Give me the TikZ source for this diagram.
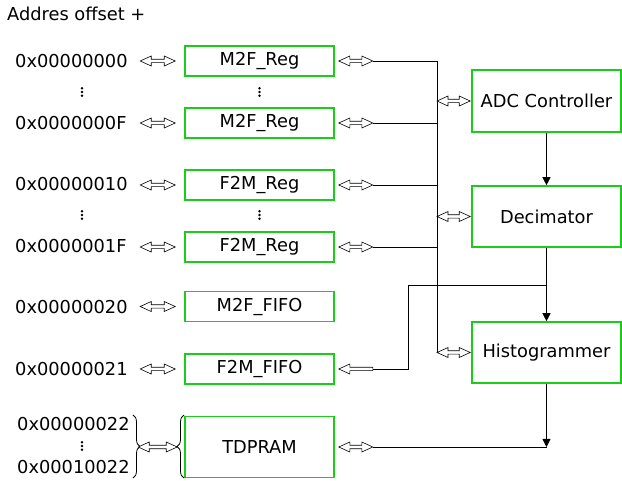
\documentclass[tikz,border=0pt]{standalone}
\usepackage{fontspec}
\setmainfont{DejaVu Sans}
\usetikzlibrary{calc,arrows.meta,decorations.pathreplacing}
\definecolor{boxgreen}{RGB}{25,205,25}
% hollow double-headed arrow between two points on one horizontal line (left point first)
\newcommand\dblarr[2]{%
  \path[harr] let \p1=(#1), \p2=(#2) in
    (\x1,\y1) -- (\x1+11pt,\y1+5pt) -- (\x1+11pt,\y1+1.7pt) -- (\x2-11pt,\y1+1.7pt)
    -- (\x2-11pt,\y1+5pt) -- (\x2,\y1) -- (\x2-11pt,\y1-5pt) -- (\x2-11pt,\y1-1.7pt)
    -- (\x1+11pt,\y1-1.7pt) -- (\x1+11pt,\y1-5pt) -- cycle;}
% hollow single arrow pointing to the left point (left point first)
\newcommand\leftarr[2]{%
  \path[harr] let \p1=(#1), \p2=(#2) in
    (\x1,\y1) -- (\x1+11pt,\y1+5pt) -- (\x1+11pt,\y1+1.7pt) -- (\x2,\y1+1.7pt)
    -- (\x2,\y1-1.7pt) -- (\x1+11pt,\y1-1.7pt) -- (\x1+11pt,\y1-5pt) -- cycle;}
\begin{document}
\begin{tikzpicture}[x=1pt,y=-1pt,
  font=\fontsize{17.8}{20}\selectfont,
  box/.style={draw=boxgreen, line width=1.6pt, minimum width=149pt, inner sep=0pt},
  reg/.style={box, minimum height=30pt},
  big/.style={box, minimum height=61pt},
  addr/.style={anchor=west, inner sep=0pt},
  wire/.style={draw=black, line width=0.9pt},
  harr/.style={draw=black, fill=white, line width=0.6pt, line join=miter},
  flow/.style={wire, -{Triangle[length=8pt,width=8pt]}},
  brc/.style={draw=black, line width=0.8pt, decorate, decoration={brace, amplitude=7pt}},
  vdots/.pic={\fill (0,-3.8) circle (1.4pt) (0,0) circle (1.4pt) (0,3.8) circle (1.4pt);}]
\useasboundingbox (0,0) rectangle (622,481);

% title
\node[addr] (title) at (7,14) {Addres offset +};

% address labels
\node[addr] (a0)  at (15,61)  {0x00000000};
\node[addr] (a1)  at (15,123) {0x0000000F};
\node[addr] (a2)  at (15,184) {0x00000010};
\node[addr] (a3)  at (15,246) {0x0000001F};
\node[addr] (a4)  at (15,307) {0x00000020};
\node[addr] (a5)  at (15,369) {0x00000021};
\node[addr] (a6)  at (17,424) {0x00000022};
\node[addr] (a7)  at (17,467) {0x00010022};
\pic at (82,92)  {vdots};
\pic at (82,215) {vdots};
\pic at (82,446) {vdots};

% register / fifo boxes
\node[reg] (m1) at (259.5,61)  {M2F\_Reg};
\node[reg] (m2) at (259.5,123) {M2F\_Reg};
\node[reg] (f1) at (259.5,185) {F2M\_Reg};
\node[reg] (f2) at (259.5,247) {F2M\_Reg};
\node[reg] (mf) at (259.5,306.5) {M2F\_FIFO};
\node[reg] (ff) at (259.5,369) {F2M\_FIFO};
\node[big] (td) at (259.5,447) {TDPRAM};
\pic at (259.5,92)  {vdots};
\pic at (259.5,215) {vdots};

% right blocks
\node[big, minimum height=62pt] (adc)  at (546.5,101)   {ADC Controller};
\node[big] (dec)  at (546.5,216.5) {Decimator};
\node[big] (hist) at (546.5,352.5) {Histogrammer};

% left arrows
\foreach \b in {m1,m2,f1,f2,mf,ff}
  \dblarr{$(\b.west)+(-44,0)$}{$(\b.west)+(-9,0)$};

% braces for TDPRAM
\draw[brc] (133,415) -- (133,478);
\draw[brc] (184,478) -- (184,415);
\dblarr{$(td.west)+(-46,0)$}{$(td.west)+(-7,0)$};

% bus
\coordinate (bus) at (437,0);
\foreach \b in {m1,m2,f1,f2}
  \dblarr{$(\b.east)+(4,0)$}{$(\b.east)+(38,0)$};
\draw[wire] ($(m1.east)+(38,0)$) -- (m1.east -| bus) -- (hist.west -| bus);
\foreach \b in {m2,f1,f2}
  \draw[wire] ($(\b.east)+(38,0)$) -- (\b.east -| bus);
\foreach \b in {adc,dec,hist}
  \dblarr{$(\b.west -| bus)$}{$(\b.west)+(-1,0)$};

% data flow
\draw[flow] (adc.south) -- (dec.north);
\draw[flow] (dec.south) -- (hist.north);
\coordinate (j1) at (547,285);
\coordinate (bend1) at (408,285);
\draw[wire] (j1) -- (bend1) -- (bend1 |- ff.east) -- ($(ff.east)+(38,0)$);
\leftarr{$(ff.east)+(4,0)$}{$(ff.east)+(38,0)$};

\coordinate (j2) at (hist.south |- td.east);
\draw[flow] (hist.south) -- (j2);
\draw[wire] ($(td.east)+(38,0)$) -- (j2);
\dblarr{$(td.east)+(4,0)$}{$(td.east)+(38,0)$};
\end{tikzpicture}
\end{document}
